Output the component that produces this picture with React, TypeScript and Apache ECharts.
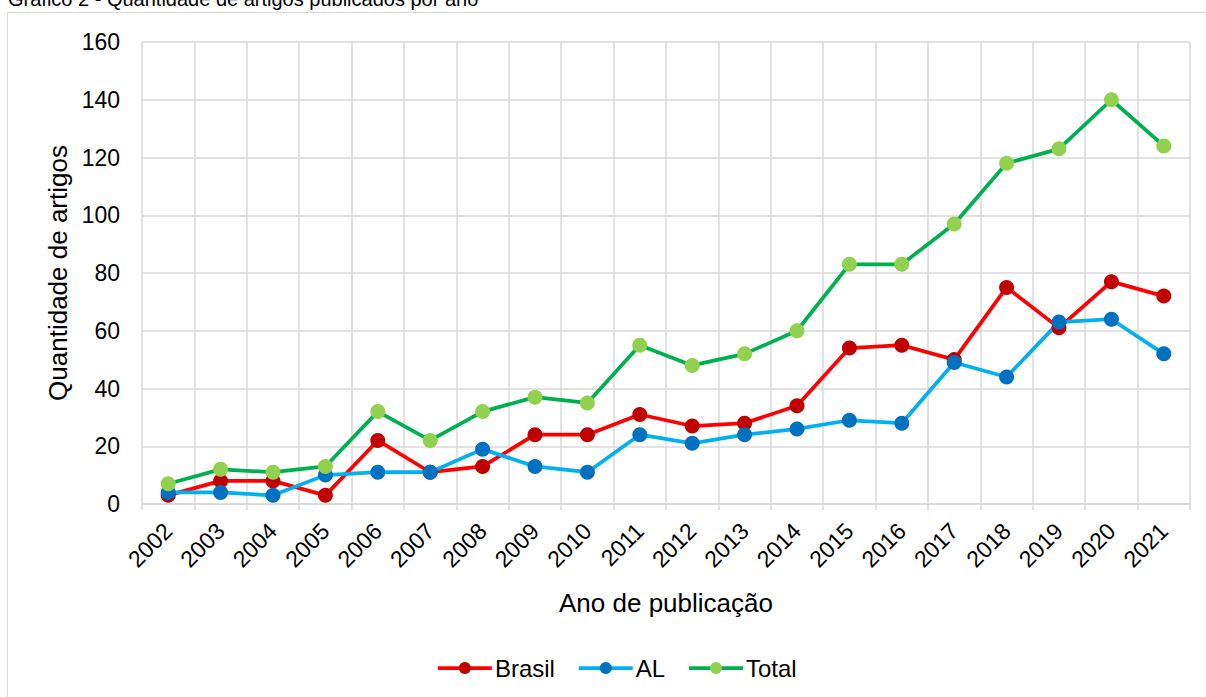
import React, { useEffect, useRef } from "react";
import * as echarts from "echarts";

const years = ["2002","2003","2004","2005","2006","2007","2008","2009","2010","2011","2012","2013","2014","2015","2016","2017","2018","2019","2020","2021"];
const brasil = [3, 8, 8, 3, 22, 11, 13, 24, 24, 31, 27, 28, 34, 54, 55, 50, 75, 61, 77, 72];
const al = [4, 4, 3, 10, 11, 11, 19, 13, 11, 24, 21, 24, 26, 29, 28, 49, 44, 63, 64, 52];
const total = [7, 12, 11, 13, 32, 22, 32, 37, 35, 55, 48, 52, 60, 83, 83, 97, 118, 123, 140, 124];

const titleText = "Gráfico 2 - Quantidade de artigos publicados por ano";
const xName = "Ano de publicação";
const yName = "Quantidade de artigos";

const FONT = "Liberation Sans, Arial, sans-serif";

export default function App() {
  const ref = useRef<HTMLDivElement>(null);
  useEffect(() => {
    if (!ref.current) return;
    const chart = echarts.init(ref.current, null, { renderer: "svg" });
    const mk = (name: string, data: number[], line: string, dot: string) => ({
      name,
      type: "line",
      data,
      symbol: "circle",
      symbolSize: 15,
      lineStyle: { color: line, width: 3.75 },
      itemStyle: { color: dot },
    });
    chart.setOption({
      animation: false,
      textStyle: { fontFamily: FONT },
      graphic: [
        {
          type: "rect",
          shape: { x: 7.5, y: 12.5, width: 1300, height: 800 },
          style: { fill: "none", stroke: "#d9d9d9", lineWidth: 1 },
          silent: true,
        },
        {
          type: "text",
          x: 8,
          y: -1.5,
          style: {
            text: titleText,
            font: `20px ${FONT}`,
            fill: "#000",
            verticalAlign: "middle",
          },
        },
      ],
      grid: { left: 142, right: 16, top: 42, bottom: 193, containLabel: false },
      legend: {
        data: ["Brasil", "AL", "Total"],
        top: 651,
        left: 431,
        itemWidth: 54,
        itemHeight: 15,
        itemGap: 22,
        lineStyle: { width: 3.75 },
        textStyle: { fontSize: 24, color: "#000", fontFamily: FONT, padding: [0, 0, 0, -2] },
      },
      xAxis: {
        type: "category",
        data: years,
        boundaryGap: true,
        name: xName,
        nameLocation: "middle",
        nameGap: 86,
        nameTextStyle: { fontSize: 26, color: "#000", fontFamily: FONT },
        axisLine: { show: true, lineStyle: { color: "#d9d9d9", width: 1.5 } },
        axisTick: { show: true, length: 6, lineStyle: { color: "#d9d9d9", width: 1.5 } },
        axisLabel: { rotate: 45, fontSize: 23, color: "#000", margin: 23, interval: 0, fontFamily: FONT },
        splitLine: { show: true, lineStyle: { color: "#d9d9d9", width: 1.5 } },
      },
      yAxis: {
        type: "value",
        min: 0,
        max: 160,
        interval: 20,
        name: yName,
        nameLocation: "middle",
        nameGap: 70,
        nameTextStyle: { fontSize: 26, color: "#000", fontFamily: FONT },
        axisLine: { show: false },
        axisTick: { show: false },
        axisLabel: { fontSize: 23, color: "#000", margin: 22, fontFamily: FONT },
        splitLine: { show: true, lineStyle: { color: "#d9d9d9", width: 1.5 } },
      },
      series: [
        mk("Brasil", brasil, "#FF0000", "#C00000"),
        mk("AL", al, "#00B0F0", "#0070C0"),
        mk("Total", total, "#00B050", "#92D050"),
      ],
    });
    return () => chart.dispose();
  }, []);
  return (
    <div
      ref={ref}
      style={{ position: "absolute", left: 0, top: 0, width: 1206, height: 697, background: "#fff" }}
    />
  );
}
